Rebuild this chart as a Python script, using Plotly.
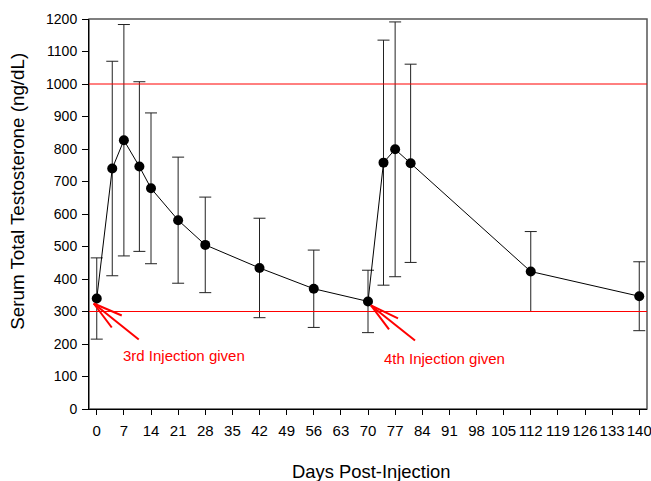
import plotly.graph_objects as go

days = [0, 4, 7, 11, 14, 21, 28, 42, 56, 70, 74, 77, 81, 112, 140]
mean_t = [340, 740, 827, 746, 679, 581, 505, 434, 370, 331, 758, 799, 756, 423, 347]
sd_t = [125, 330, 356, 261, 232, 194, 147, 153, 119, 96, 377, 392, 305, 123, 106]
x_ticks = list(range(0, 141, 7))
y_ticks = list(range(0, 1201, 100))
ref_lines = [1000, 300]
injections = [(0, 340, "3rd Injection given"), (70, 331, "4th Injection given")]

FONT = "Arial, Liberation Sans, sans-serif"

fig = go.Figure()
fig.add_trace(go.Scatter(
    x=days, y=mean_t, mode="lines+markers",
    line=dict(color="black", width=1),
    marker=dict(color="black", size=10),
    error_y=dict(type="data", array=sd_t, visible=True, color="#222222",
                 thickness=1, width=6),
    cliponaxis=False, showlegend=False,
))

shapes = []
shapes.append(dict(type="rect", xref="paper", yref="paper", x0=0, x1=1, y0=0, y1=1,
                   line=dict(color="#555555", width=1.5), layer="below"))
for v in ref_lines:
    shapes.append(dict(type="line", xref="x domain", yref="y", x0=0, x1=1, y0=v, y1=v,
                       line=dict(color="red", width=1), layer="above"))

arrows = [
    dict(tip=(-3, -5), tail=(42, -41), b1=(25, -17), b2=(15, -29)),
    dict(tip=(3, -4), tail=(47, -39), b1=(30, -17), b2=(21, -28)),
]
annotations = []
for (d, v, label), a in zip(injections, arrows):
    for end in (a["tail"], a["b1"], a["b2"]):
        shapes.append(dict(type="line", xref="x", yref="y", xsizemode="pixel",
                           ysizemode="pixel", xanchor=d, yanchor=v,
                           x0=a["tip"][0], y0=a["tip"][1], x1=end[0], y1=end[1],
                           line=dict(color="red", width=2)))
    annotations.append(dict(x=d, y=v, xref="x", yref="y", text=label, showarrow=False,
                            xanchor="left", yanchor="middle",
                            xshift=24 if d == 0 else 14, yshift=-57,
                            font=dict(color="red", size=15, family=FONT)))

annotations.append(dict(text="Days Post-Injection", xref="paper", yref="paper",
                        x=0.505, y=-0.161, xanchor="center", yanchor="middle",
                        showarrow=False, font=dict(size=18.4, family=FONT, color="black")))
annotations.append(dict(text="Serum Total Testosterone (ng/dL)", xref="paper", yref="paper",
                        x=-0.1272, y=0.557, xanchor="center", yanchor="middle",
                        textangle=-90, showarrow=False,
                        font=dict(size=18.8, family=FONT, color="black")))

fig.update_layout(
    width=651, height=481,
    margin=dict(l=89, r=4, t=19, b=72, autoexpand=False),
    paper_bgcolor="white", plot_bgcolor="white",
    font=dict(family=FONT, size=15, color="black"),
    shapes=shapes, annotations=annotations,
    xaxis=dict(range=[-2, 142], tickmode="array", tickvals=x_ticks,
               ticks="outside", ticklen=5, tickcolor="black", showgrid=False,
               zeroline=False, showline=True, linecolor="black", linewidth=1,
               automargin=False, ticklabeloverflow="allow", ticklabelstandoff=3,
               tickfont=dict(size=15)),
    yaxis=dict(range=[0, 1200], tickmode="array", tickvals=y_ticks,
               ticks="outside", ticklen=6, tickcolor="black", showgrid=False,
               zeroline=False, showline=True, linecolor="black", linewidth=1,
               automargin=False, ticklabeloverflow="allow", ticklabelstandoff=2,
               tickfont=dict(size=14)),
)

fig.write_html("out.html", config={"displayModeBar": False},
               post_script="document.body.style.margin='0';document.body.style.overflow='hidden';")
